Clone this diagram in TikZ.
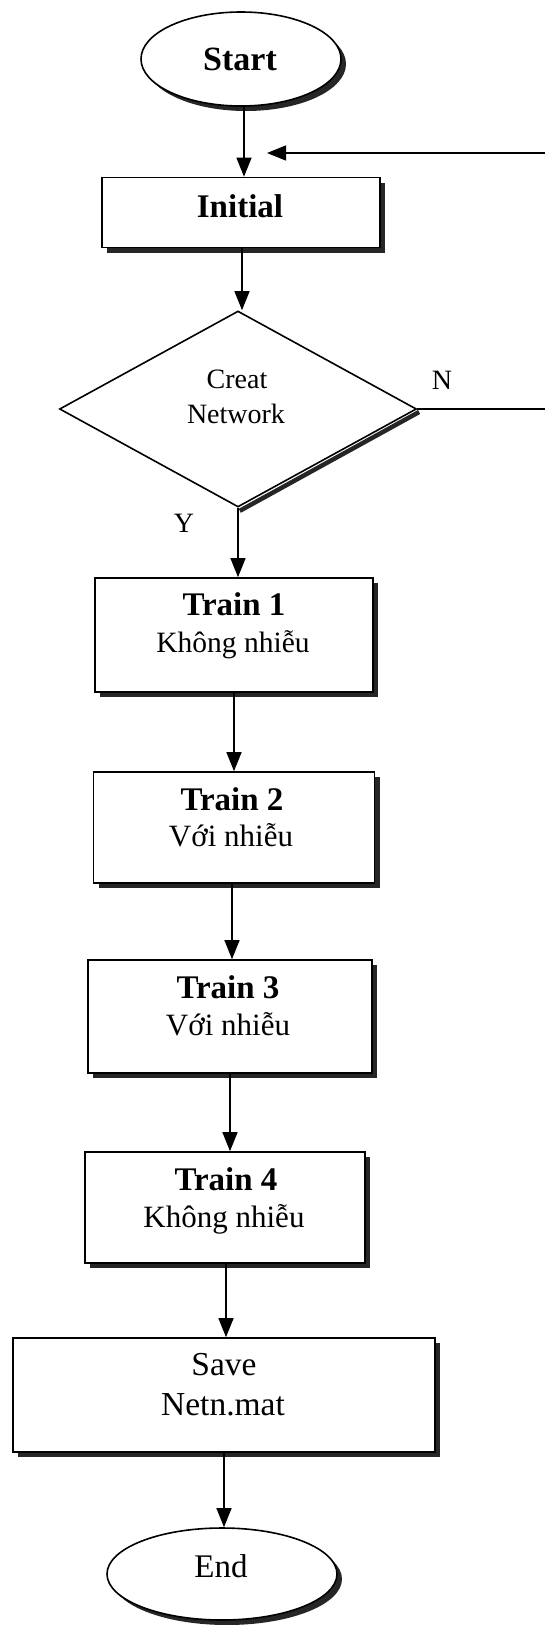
\documentclass[tikz,border=0pt]{standalone}
\usepackage{fontspec}
\setmainfont{Liberation Serif}
\usetikzlibrary{shapes.geometric,arrows.meta,shadows}

\begin{document}
\begin{tikzpicture}[x=1pt,y=-1pt,
  outline/.style={draw=black, line width=1.6pt, fill=white, inner sep=0pt},
  boxshadow/.style={drop shadow={shadow xshift=5pt, shadow yshift=-5pt, fill=black!85, opacity=1}},
  procbox/.style={outline, rectangle, boxshadow},
  terminal/.style={outline, ellipse, boxshadow},
  decision/.style={outline, diamond},
  titletext/.style={font=\fontsize{33}{38}\selectfont\bfseries, inner sep=0pt, anchor=base},
  bodytext/.style={font=\fontsize{31}{36}\selectfont, inner sep=0pt, anchor=base},
  dectext/.style={font=\fontsize{28}{33}\selectfont, inner sep=0pt, anchor=base},
  flow/.style={line width=1.3pt, -{Triangle[length=19pt,width=15pt]}},
  shadowedge/.style={line width=4.5pt, draw=black!85},
]
\useasboundingbox (0,0) rectangle (544,1625);

% terminals, process boxes and the decision
\node[terminal, minimum width=200pt, minimum height=94pt] (start) at (241,59) {};
\node[titletext, font=\fontsize{34}{38}\selectfont\bfseries] (starttxt) at (240,70) {Start};

\node[procbox, minimum width=278pt, minimum height=70pt] (init) at (241,212.5) {};
\node[titletext] (inittxt) at (240,217) {Initial};

\node[decision, minimum width=357pt, minimum height=196pt] (dec) at (238,409) {};
\draw[shadowedge] ([shift={(1.8,3)}]dec.south) -- ([shift={(1.8,3)}]dec.east);
\node[dectext] (creat) at (237,388) {Creat};
\node[dectext] (network) at (236,423) {Network};
\node[dectext] (nlab) at (442,389) {N};
\node[dectext] (ylab) at (184,532) {Y};

\node[procbox, minimum width=278pt, minimum height=114pt] (t1) at (234,635) {};
\node[titletext] (t1a) at (234,615) {Train 1};
\node[bodytext, font=\fontsize{29.5}{36}\selectfont] (t1b) at (233,652) {Không nhiễu};

\node[procbox, minimum width=281pt, minimum height=111pt] (t2) at (234,827.5) {};
\node[titletext] (t2a) at (232,810) {Train 2};
\node[bodytext] (t2b) at (231,846) {Với nhiễu};

\node[procbox, minimum width=284pt, minimum height=113pt] (t3) at (230,1016.5) {};
\node[titletext] (t3a) at (228,998) {Train 3};
\node[bodytext] (t3b) at (228,1035) {Với nhiễu};

\node[procbox, minimum width=280pt, minimum height=111pt] (t4) at (225,1207.5) {};
\node[titletext] (t4a) at (226,1190) {Train 4};
\node[bodytext] (t4b) at (224,1227) {Không nhiễu};

\node[procbox, minimum width=422pt, minimum height=114pt] (save) at (224,1395) {};
\node[bodytext, font=\fontsize{33.5}{38}\selectfont] (savea) at (224,1375) {Save};
\node[bodytext, font=\fontsize{33.5}{38}\selectfont] (saveb) at (223,1415) {Netn.mat};

\node[terminal, minimum width=230pt, minimum height=92pt] (end) at (222,1574) {};
\node[bodytext, font=\fontsize{33}{38}\selectfont] (endtxt) at (221,1577) {End};

% main flow
\draw[flow] ([xshift=3pt]start.south) -- ([xshift=3pt]start.south |- init.north);
\draw[flow] ([xshift=1pt]init.south) -- ([xshift=1pt]init.south |- dec.north);
\draw[flow] (dec.south) -- (dec.south |- t1.north);
\draw[flow] (t1.south) -- (t1.south |- t2.north);
\draw[flow] ([xshift=-2pt]t2.south) -- ([xshift=-2pt]t2.south |- t3.north);
\draw[flow] (t3.south) -- (t3.south |- t4.north);
\draw[flow] ([xshift=1pt]t4.south) -- ([xshift=1pt]t4.south |- save.north);
\draw[flow] (save.south) -- (save.south |- end.north);

% "N" branch back to the initialisation
\coordinate (rail) at (548,153);
\coordinate (reentry) at (267,153);
\draw[flow] (dec.east) -| (rail) -- (reentry);
\end{tikzpicture}
\end{document}
